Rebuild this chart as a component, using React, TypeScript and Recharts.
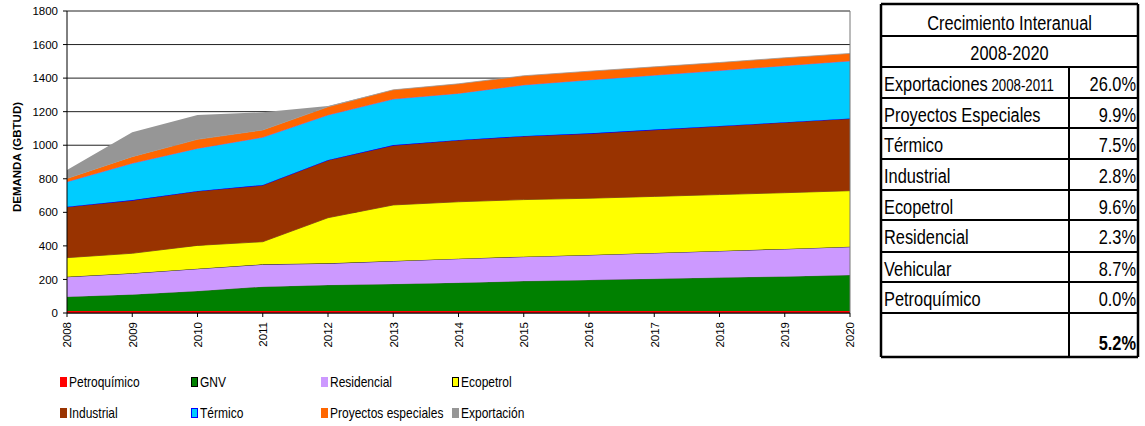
import React from 'react';
import { AreaChart, Area, XAxis, YAxis, CartesianGrid, ReferenceLine } from 'recharts';

const years = ['2008', '2009', '2010', '2011', '2012', '2013', '2014', '2015', '2016', '2017', '2018', '2019', '2020'];
const petroquimico = [12, 12, 12, 12, 12, 12, 12, 12, 12, 12, 12, 12, 12];
const gnv = [85, 99, 119, 145, 155, 161, 169, 178, 185, 192, 199, 206, 214];
const residencial = [119, 126, 133, 133, 129, 137, 143, 146, 149, 154, 159, 164, 169];
const ecopetrol = [114, 119, 139, 135, 272, 334, 339, 340, 338, 337, 336, 335, 334];
const industrial = [304, 317, 324, 338, 344, 357, 368, 379, 387, 398, 409, 420, 431];
const termico = [148, 219, 254, 284, 268, 274, 278, 304, 318, 324, 330, 337, 342];
const proyectos = [20, 40, 54, 44, 49, 55, 57, 55, 52, 50, 48, 47, 45];
const exportacion = [50, 145, 145, 105, 5, 0, 0, 0, 0, 0, 0, 0, 0];

const yTicks = [0, 200, 400, 600, 800, 1000, 1200, 1400, 1600, 1800];

const legendNames = ['Petroquímico', 'GNV', 'Residencial', 'Ecopetrol', 'Industrial', 'Térmico', 'Proyectos especiales', 'Exportación'];

const tableTitle = 'Crecimiento Interanual';
const tableSubtitle = '2008-2020';
const tableLabels = ['Exportaciones', 'Proyectos Especiales', 'Térmico', 'Industrial', 'Ecopetrol', 'Residencial', 'Vehicular', 'Petroquímico'];
const tableValues = ['26.0%', '9.9%', '7.5%', '2.8%', '9.6%', '2.3%', '8.7%', '0.0%'];
const tableTotal = '5.2%';
const exportSuffix = '2008-2011';

const data = years.map((year, i) => ({
  year,
  petroquimico: petroquimico[i],
  gnv: gnv[i],
  residencial: residencial[i],
  ecopetrol: ecopetrol[i],
  industrial: industrial[i],
  termico: termico[i],
  proyectos: proyectos[i],
  exportacion: exportacion[i],
}));

const series = [
  { key: 'petroquimico', fill: '#FF0000', stroke: '#FF0000', sw: 1, sq: '#FF0000', sqb: '#FF0000' },
  { key: 'gnv', fill: '#008000', stroke: '#5a5a5a', sw: 0.8, sq: '#008000', sqb: '#000' },
  { key: 'residencial', fill: '#CC99FF', stroke: '#222', sw: 1, sq: '#CC99FF', sqb: '#CC99FF' },
  { key: 'ecopetrol', fill: '#FFFF00', stroke: '#6a4a00', sw: 0.8, sq: '#FFFF00', sqb: '#000' },
  { key: 'industrial', fill: '#993300', stroke: '#0000FF', sw: 1.2, sq: '#993300', sqb: '#993300' },
  { key: 'termico', fill: '#00CCFF', stroke: '#9966CC', sw: 1, sq: '#00CCFF', sqb: '#0000FF' },
  { key: 'proyectos', fill: '#FF6600', stroke: '#999', sw: 0.8, sq: '#FF6600', sqb: '#FF6600' },
  { key: 'exportacion', fill: '#969696', stroke: 'none', sw: 0, sq: '#969696', sqb: '#969696' },
];

const FONT = '"Liberation Sans", Arial, sans-serif';

const XTick = (props: any) => {
  const { x, y, payload } = props;
  const bx = x + 4.3;
  return (
    <text x={bx} y={y} transform={`rotate(-90 ${bx} ${y})`} textAnchor="end" fontSize={11.5} fill="#000" fontFamily={FONT}>
      {payload.value}
    </text>
  );
};

const YLabel = (props: any) => {
  const vb = props.viewBox || {};
  const cx = 20.5;
  const cy = (vb.y || 11) + (vb.height || 302) / 2 - 5;
  return (
    <text x={cx} y={cy} transform={`rotate(-90 ${cx} ${cy})`} textAnchor="middle" fontSize={11.5} fontWeight="bold" fill="#000" fontFamily={FONT}>
      DEMANDA (GBTUD)
    </text>
  );
};

const legendX = [60, 191, 321, 452];
const legendY = [382, 413];

const rowLines = [4, 36, 67, 98, 128, 159, 190, 220, 252, 282, 313, 357];
const TL = 881;
const TR = 1138;
const TD = 1069;
const SX = 0.78;

const Cond = ({ x, y, anchor, size, bold, children }: any) => (
  <g transform={`translate(${x} ${y}) scale(${SX} 1)`}>
    <text x={0} y={0} textAnchor={anchor} fontSize={size} fontWeight={bold ? 'bold' : 'normal'} fill="#000" fontFamily={FONT}>
      {children}
    </text>
  </g>
);

export default function App() {
  return (
    <div style={{ position: 'absolute', left: 0, top: 0, width: 1145, height: 426, background: '#fff', fontFamily: FONT }}>
      <div style={{ position: 'absolute', left: 0, top: 0 }}>
        <AreaChart width={870} height={360} data={data} margin={{ top: 11, right: 20, bottom: 7, left: 0 }}>
          <CartesianGrid horizontal={true} vertical={false} stroke="#222" strokeWidth={1} />
          <XAxis dataKey="year" interval={0} tickSize={4} tickMargin={5} height={40} axisLine={{ stroke: '#000' }} tickLine={{ stroke: '#000' }} tick={<XTick />} />
          <YAxis domain={[0, 1800]} ticks={yTicks} width={67} tickSize={4} tickMargin={5} axisLine={{ stroke: '#000' }} tickLine={{ stroke: '#000' }} tick={{ fontSize: 11.5, fill: '#000', fontFamily: FONT }} label={<YLabel />} />
          {series.map((s) => (
            <Area key={s.key} type="linear" dataKey={s.key} stackId="1" fill={s.fill} fillOpacity={1} stroke={s.stroke} strokeWidth={s.sw} isAnimationActive={false} dot={false} activeDot={false} />
          ))}
          <ReferenceLine x="2020" stroke="#777" strokeWidth={1} />
        </AreaChart>
      </div>

      {legendNames.map((name, i) => {
        const col = i % 4;
        const row = Math.floor(i / 4);
        const s = series[i];
        return (
          <div key={name} style={{ position: 'absolute', left: legendX[col], top: legendY[row] - 10, height: 20, display: 'flex', alignItems: 'center', whiteSpace: 'nowrap' }}>
            <div style={{ width: 7, height: 10, background: s.sq, border: `1px solid ${s.sqb}`, boxSizing: 'border-box', marginRight: 2 }} />
            <span style={{ fontSize: 15, lineHeight: '20px', color: '#000', display: 'inline-block', transform: 'scaleX(0.8)', transformOrigin: 'left center' }}>{name}</span>
          </div>
        );
      })}

      <svg width={1145} height={426} style={{ position: 'absolute', left: 0, top: 0 }}>
        {rowLines.map((y, i) => (
          <line key={'h' + i} x1={TL} x2={TR} y1={y} y2={y} stroke="#000" strokeWidth={i === 0 || i === rowLines.length - 1 ? 2.5 : 2} />
        ))}
        <line x1={TL} x2={TL} y1={rowLines[0]} y2={rowLines[rowLines.length - 1]} stroke="#000" strokeWidth={2.5} />
        <line x1={TR} x2={TR} y1={rowLines[0]} y2={rowLines[rowLines.length - 1]} stroke="#000" strokeWidth={2.5} />
        <line x1={TD} x2={TD} y1={rowLines[2]} y2={rowLines[rowLines.length - 1]} stroke="#000" strokeWidth={2} />
        <Cond x={(TL + TR) / 2} y={rowLines[0] + 26} anchor="middle" size={21}>{tableTitle}</Cond>
        <Cond x={(TL + TR) / 2} y={rowLines[1] + 24} anchor="middle" size={21}>{tableSubtitle}</Cond>
        {tableLabels.map((lab, i) => (
          <g key={lab}>
            <Cond x={884} y={rowLines[i + 2] + 24} anchor="start" size={21}>
              {lab}
              {i === 0 ? <tspan fontSize={17}>{' ' + exportSuffix}</tspan> : null}
            </Cond>
            <Cond x={1136} y={rowLines[i + 2] + 24} anchor="end" size={21}>{tableValues[i]}</Cond>
          </g>
        ))}
        <Cond x={1136} y={rowLines[10] + 37} anchor="end" size={21} bold>{tableTotal}</Cond>
      </svg>
    </div>
  );
}
